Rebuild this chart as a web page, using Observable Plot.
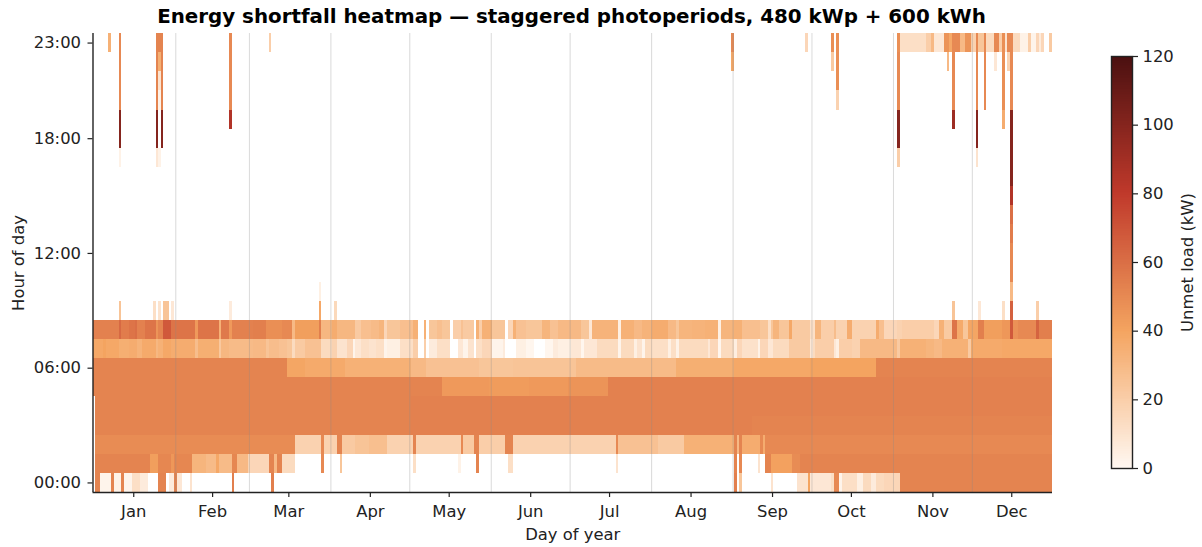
<!DOCTYPE html>
<html><head><meta charset="utf-8">
<script src="https://cdn.jsdelivr.net/npm/d3@7"></script>
<script src="https://cdn.jsdelivr.net/npm/@observablehq/plot@0.6"></script>
<style>
html,body{margin:0;padding:0;background:#fff;}
#root{position:relative;width:1202px;height:547px;overflow:hidden;font-family:"DejaVu Sans",sans-serif;}
#title{position:absolute;left:0;top:5px;width:1143px;text-align:center;font:bold 19.85px "DejaVu Sans",sans-serif;color:#000;white-space:nowrap;}
#main{position:absolute;left:0;top:0;}
#bar{position:absolute;left:1090px;top:0;}
svg{display:block;}
</style></head><body>
<div id="root"><div id="title">Energy shortfall heatmap — staggered photoperiods, 480 kWp + 600 kWh</div><div id="main"></div><div id="bar"></div></div>
<script>
const monthNames = ["Jan","Feb","Mar","Apr","May","Jun","Jul","Aug","Sep","Oct","Nov","Dec"];
const monthMids = [15,45,74,105,135,166,196,227,258,288,319,349];
const monthStarts = [31,59,90,120,151,181,212,243,273,304,334];
const hourTicks = [0,6,12,18,23];
const colorStops = [0,40,80,120];
const colorRange = ["#fff8f2","#f4a460","#c0392b","#4a1010"];

// each entry: [first day, last day, unmet kW]
const hour00 = [[1,2,52],[3,6,2],[7,7,52],[8,10,3],[11,11,52],[12,14,2],[15,17,12],[18,20,6],[25,27,52],[29,30,6],[31,31,52],[32,33,8],[37,37,10],[53,53,54],[68,68,54],[244,244,54],[246,246,24],[258,258,10],[268,271,10],[272,272,40],[273,280,8],[281,281,12],[282,283,50],[284,284,2],[285,290,12],[291,292,4],[293,295,14],[296,297,6],[298,300,14],[301,306,16],[307,364,52]];
const hour01 = [[1,21,52],[22,24,42],[25,29,51],[30,30,45],[31,37,51],[38,42,32],[43,46,29],[47,47,38],[48,52,29],[53,54,51],[55,58,30],[59,66,16],[67,68,52],[69,69,30],[70,71,52],[72,76,14],[87,87,50],[94,94,24],[122,122,12],[139,139,3],[146,146,52],[158,159,12],[199,199,10],[244,244,52],[246,246,50],[253,253,10],[256,257,52],[258,265,41],[266,268,49],[269,364,52]];
const hour02 = [[1,76,49],[77,86,18],[87,87,50],[88,92,18],[93,94,52],[95,99,22],[100,104,25],[105,111,27],[112,121,18],[122,122,52],[123,139,18],[140,140,50],[141,144,22],[145,146,52],[147,156,20],[157,159,52],[160,198,18],[199,199,50],[200,214,26],[215,224,22],[225,243,34],[244,244,52],[245,245,30],[246,246,52],[247,253,36],[254,254,50],[255,255,36],[256,364,50]];
const hour03 = [[1,120,52],[121,250,53],[251,364,52]];
const hour04 = [[1,120,52],[121,250,53],[251,364,53]];
const hour05 = [[0,132,52],[133,150,44],[151,165,43],[166,180,44],[181,195,46],[196,364,53]];
const hour06 = [[0,73,52],[74,80,39],[81,95,37],[96,120,34],[121,126,30],[127,146,26],[147,159,24],[160,183,25],[184,221,29],[222,243,35],[244,272,38],[273,297,40],[298,364,52]];
const hour07 = [[0,3,38],[4,4,40],[5,9,38],[10,13,35],[14,16,36],[17,18,33],[19,23,37],[24,24,31],[25,26,34],[27,29,38],[30,38,36],[39,39,28],[40,47,35],[48,48,23],[49,51,31],[52,60,29],[61,65,30],[66,66,25],[67,70,28],[71,73,26],[74,75,24],[76,76,14],[77,80,22],[81,86,26],[87,90,14],[91,92,18],[93,96,10],[97,98,16],[99,99,2],[100,101,8],[102,104,12],[105,107,10],[108,110,12],[111,111,2],[112,116,4],[117,121,12],[122,123,20],[126,126,20],[128,130,6],[131,135,12],[139,140,8],[141,142,2],[143,144,10],[146,147,12],[148,151,16],[152,155,2],[156,156,6],[161,164,4],[165,167,1],[172,174,1],[175,176,6],[177,181,4],[182,185,8],[186,186,1],[187,191,8],[192,199,14],[200,200,2],[201,205,14],[206,206,4],[207,208,10],[209,209,2],[210,212,14],[213,218,12],[219,219,4],[220,221,12],[222,222,3],[223,233,14],[234,234,8],[235,237,16],[238,238,1],[239,243,14],[244,244,5],[245,246,16],[247,252,11],[253,253,3],[254,256,16],[257,258,8],[259,264,14],[265,272,22],[273,273,8],[274,274,14],[275,281,20],[282,282,8],[283,283,4],[284,288,20],[289,291,18],[292,305,30],[306,306,22],[307,316,34],[317,319,32],[320,322,30],[323,332,34],[333,333,22],[334,345,37],[346,364,38]];
const hour08 = [[0,9,53],[10,10,62],[11,13,55],[14,15,58],[16,16,60],[17,19,53],[20,23,58],[24,24,46],[25,26,52],[27,29,68],[30,38,58],[39,39,44],[40,47,58],[48,48,34],[49,51,56],[52,52,44],[53,60,53],[61,65,54],[66,71,48],[72,75,50],[76,76,30],[77,85,42],[86,86,54],[87,90,31],[91,92,36],[93,99,31],[100,101,22],[102,105,27],[106,108,29],[109,110,32],[111,111,16],[112,116,24],[117,121,27],[122,123,34],[126,126,34],[128,130,24],[131,132,27],[133,135,24],[137,139,20],[140,140,26],[141,144,22],[146,146,34],[147,147,20],[148,151,34],[152,156,24],[158,159,16],[160,160,34],[161,164,26],[165,170,24],[171,173,32],[174,176,26],[177,185,30],[186,188,24],[189,189,8],[190,199,33],[200,200,4],[201,205,34],[206,208,30],[209,212,33],[213,218,36],[219,221,30],[222,222,24],[223,227,32],[228,232,33],[233,237,34],[238,238,4],[239,243,32],[244,246,34],[247,253,27],[254,256,24],[257,257,12],[258,258,24],[259,260,32],[261,264,24],[265,265,38],[266,272,22],[273,274,12],[275,276,32],[277,281,20],[282,282,28],[283,286,18],[287,288,36],[289,297,18],[298,298,36],[299,300,27],[301,305,16],[306,307,18],[308,319,20],[320,321,16],[322,323,34],[324,326,22],[327,328,58],[329,330,37],[331,332,24],[333,336,39],[337,338,54],[339,345,42],[346,348,45],[349,349,68],[350,351,47],[352,358,50],[359,359,64],[360,364,54]];
const hour09 = [[10,10,25],[23,23,12],[25,25,10],[27,28,25],[30,30,8],[52,52,6],[86,86,38],[92,92,15],[327,327,25],[337,337,8],[346,346,12],[349,349,65],[359,359,20]];
const hour10 = [[86,86,4],[349,349,30]];
const hour11 = [[349,349,50]];
const hour12 = [[349,349,50]];
const hour13 = [[349,349,55]];
const hour14 = [[349,349,60]];
const hour15 = [[349,349,85]];
const hour16 = [[349,349,100]];
const hour17 = [[10,10,3],[24,24,8],[25,25,3],[306,306,20],[336,336,10],[349,349,100]];
const hour18 = [[10,10,100],[24,24,100],[26,26,100],[306,306,100],[336,336,100],[349,349,100]];
const hour19 = [[10,10,100],[24,24,100],[26,26,100],[52,52,85],[306,306,100],[327,327,92],[336,336,100],[346,346,36],[349,349,100]];
const hour20 = [[10,10,50],[24,24,52],[25,25,3],[26,26,52],[52,52,50],[283,283,18],[306,306,50],[327,327,50],[336,336,50],[339,339,50],[346,346,48],[349,349,50]];
const hour21 = [[10,10,50],[24,24,52],[25,25,10],[26,26,52],[52,52,50],[283,283,48],[306,306,50],[327,327,50],[336,336,50],[339,339,50],[346,346,48],[349,349,50]];
const hour22 = [[10,10,50],[24,24,52],[25,25,35],[26,26,52],[52,52,50],[243,243,38],[281,281,22],[283,283,48],[306,306,50],[325,325,30],[327,327,50],[336,336,50],[339,339,50],[343,343,8],[346,346,48],[348,348,18],[349,349,50]];
const hour23 = [[6,6,34],[10,10,50],[24,26,52],[52,52,50],[67,67,20],[243,243,50],[271,271,16],[281,281,48],[283,283,48],[306,306,48],[307,316,12],[317,318,20],[319,319,30],[320,323,8],[324,325,46],[326,326,38],[327,329,50],[330,331,30],[332,333,46],[334,335,18],[336,336,50],[337,338,24],[339,339,50],[340,342,14],[343,344,50],[345,345,20],[346,346,48],[347,347,10],[348,349,50],[350,352,14],[353,355,3],[356,356,20],[357,358,2],[359,359,16],[360,360,6],[361,361,16],[364,364,22]];

const hours = [hour00,hour01,hour02,hour03,hour04,hour05,hour06,hour07,hour08,hour09,hour10,hour11,hour12,hour13,hour14,hour15,hour16,hour17,hour18,hour19,hour20,hour21,hour22,hour23];
const runs = hours.flatMap((list,h)=>list.map(([a,b,v])=>({a,b,h,v})));

const ink = "#222";
const colorScale = {type:"linear",domain:colorStops,range:colorRange,interpolate:"rgb"};
const fontSize = 16.4;

const main = Plot.plot({
  width:1090,height:547,
  marginLeft:92.5,marginRight:38,marginTop:33,marginBottom:55,
  style:{fontFamily:"DejaVu Sans, sans-serif",fontSize:fontSize+"px",color:ink,background:"transparent"},
  x:{domain:[-0.5,364.5]},
  y:{domain:[-0.5,23.5]},
  color:colorScale,
  marks:[
    Plot.rect(runs,{x1:d=>d.a-0.5,x2:d=>d.b+0.5,y1:d=>d.h-0.5,y2:d=>d.h+0.5,fill:"v",shapeRendering:"crispEdges"}),
    Plot.ruleX(monthStarts,{stroke:"#888",strokeOpacity:0.32,strokeWidth:1}),
    Plot.ruleX([-0.5],{stroke:ink,strokeWidth:1.4}),
    Plot.ruleY([-0.5],{stroke:ink,strokeWidth:1.4}),
    Plot.axisX({ticks:monthMids,tickFormat:(d,i)=>monthNames[i],tickSize:5,tickPadding:8,stroke:ink,strokeWidth:1.2,fontSize,label:"Day of year",labelAnchor:"center",labelArrow:"none",labelOffset:47}),
    Plot.axisY({ticks:hourTicks,tickFormat:h=>String(h).padStart(2,"0")+":00",tickSize:5,tickPadding:7,stroke:ink,strokeWidth:1.2,fontSize,label:"Hour of day",labelAnchor:"center",labelArrow:"none",labelOffset:81})
  ]
});
document.getElementById("main").appendChild(main);

const barStops = d3.range(0,120,0.5);
const bar = Plot.plot({
  width:112,height:547,
  marginLeft:21,marginRight:70,marginTop:56,marginBottom:79,
  style:{fontFamily:"DejaVu Sans, sans-serif",fontSize:fontSize+"px",color:ink,background:"transparent"},
  x:{domain:[0,1],axis:null},
  y:{domain:[0,120]},
  color:colorScale,
  marks:[
    Plot.rect(barStops,{x1:0,x2:1,y1:d=>d,y2:d=>d+0.5,fill:d=>d+0.25,shapeRendering:"crispEdges"}),
    Plot.frame({stroke:ink,strokeWidth:1.4}),
    Plot.axisY({anchor:"right",ticks:[0,20,40,60,80,100,120],tickSize:5,tickPadding:5,stroke:ink,strokeWidth:1.2,fontSize,label:"Unmet load (kW)",labelAnchor:"center",labelArrow:"none",labelOffset:60})
  ]
});
document.getElementById("bar").appendChild(bar);
</script>
</body></html>
